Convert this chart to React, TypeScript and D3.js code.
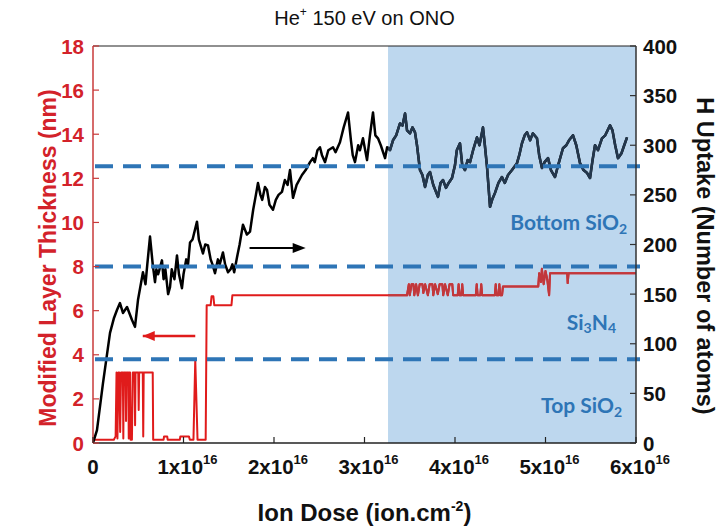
import React from 'react';
import * as d3 from 'd3';

// ---- data ----
const doseTicks = [0, 1, 2, 3, 4, 5, 6];
const thicknessTicks = [0, 2, 4, 6, 8, 10, 12, 14, 16, 18];
const uptakeTicks = [0, 50, 100, 150, 200, 250, 300, 350, 400];
const layerBoundariesNm = [3.8, 8.0, 12.55];
const shadedStartDose = 3.26;

// H uptake (right axis, atoms) vs ion dose (x1e16 ion/cm2)
const uptakeDose = [0, 0.044, 0.11, 0.188, 0.232, 0.265, 0.298, 0.331, 0.376, 0.431, 0.464, 0.497, 0.552, 0.58, 0.60, 0.63, 0.66, 0.685, 0.70, 0.72, 0.762, 0.78, 0.80, 0.83, 0.851, 0.87, 0.90, 0.928, 0.95, 0.983, 1.0, 1.03, 1.05, 1.072, 1.10, 1.149, 1.17, 1.215, 1.24, 1.271, 1.30, 1.32, 1.348, 1.38, 1.40, 1.436, 1.46, 1.492, 1.52, 1.54, 1.56, 1.591, 1.62, 1.657, 1.70, 1.735, 1.77, 1.80, 1.823, 1.85, 1.87, 1.9, 1.923, 1.95, 1.989, 2.02, 2.05, 2.088, 2.12, 2.15, 2.177, 2.21, 2.25, 2.309, 2.35, 2.398, 2.43, 2.45, 2.48, 2.508, 2.53, 2.564, 2.60, 2.652, 2.68, 2.729, 2.77, 2.818, 2.85, 2.87, 2.895, 2.93, 2.95, 2.983, 3.028, 3.06, 3.094, 3.12, 3.149, 3.18, 3.227, 3.25, 3.282, 3.315, 3.35, 3.392, 3.42, 3.448, 3.47, 3.503, 3.53, 3.558, 3.58, 3.613, 3.64, 3.669, 3.70, 3.724, 3.76, 3.812, 3.84, 3.867, 3.90, 3.93, 3.967, 4.00, 4.02, 4.055, 4.08, 4.11, 4.14, 4.166, 4.20, 4.243, 4.27, 4.309, 4.33, 4.354, 4.387, 4.41, 4.442, 4.48, 4.519, 4.55, 4.586, 4.63, 4.685, 4.71, 4.74, 4.77, 4.796, 4.83, 4.86, 4.906, 4.93, 4.961, 4.99, 5.028, 5.06, 5.105, 5.14, 5.193, 5.23, 5.26, 5.304, 5.34, 5.381, 5.42, 5.46, 5.492, 5.52, 5.547, 5.58, 5.624, 5.66, 5.713, 5.74, 5.77, 5.801, 5.84, 5.87, 5.901];
const uptakeAtoms = [0, 13, 60, 111, 126, 134, 141, 131, 137, 124, 117, 144, 172, 160, 180, 208, 180, 162, 175, 170, 184, 165, 175, 150, 157, 175, 165, 189, 170, 156, 170, 185, 180, 202, 205, 223, 205, 191, 200, 199, 185, 180, 171, 185, 180, 192, 180, 172, 175, 180, 172, 187, 200, 220, 210, 213, 235, 250, 262, 250, 245, 258, 255, 240, 235, 245, 250, 253, 265, 260, 275, 247, 260, 270, 275, 283, 287, 283, 295, 298, 290, 283, 295, 298, 293, 303, 318, 333, 305, 290, 283, 300, 295, 307, 285, 310, 333, 310, 307, 300, 287, 298, 295, 305, 310, 322, 320, 332, 315, 312, 318, 313, 300, 275, 270, 258, 270, 273, 260, 248, 262, 265, 257, 262, 267, 280, 295, 302, 280, 275, 285, 283, 295, 308, 300, 318, 300, 278, 238, 245, 252, 262, 268, 262, 270, 275, 282, 290, 302, 310, 313, 305, 312, 307, 290, 277, 283, 287, 275, 268, 280, 297, 300, 305, 310, 300, 282, 275, 272, 267, 285, 300, 295, 307, 310, 320, 315, 300, 287, 292, 300, 308];

// Modified layer thickness (left axis, nm) vs ion dose (x1e16 ion/cm2)
const thickDose = [0, 0.23, 0.25, 0.26, 0.27, 0.28, 0.29, 0.30, 0.31, 0.33, 0.335, 0.34, 0.36, 0.365, 0.37, 0.39, 0.395, 0.40, 0.41, 0.415, 0.43, 0.44, 0.46, 0.465, 0.47, 0.50, 0.505, 0.51, 0.55, 0.555, 0.56, 0.66, 0.665, 0.78, 0.785, 0.82, 0.825, 0.96, 0.965, 1.06, 1.07, 1.11, 1.13, 1.155, 1.245, 1.256, 1.30, 1.31, 1.33, 1.34, 1.53, 1.54, 3.47, 3.49, 3.50, 3.52, 3.54, 3.55, 3.57, 3.59, 3.61, 3.64, 3.65, 3.67, 3.70, 3.72, 3.75, 3.76, 3.78, 3.81, 3.83, 3.86, 3.87, 3.89, 3.92, 3.94, 3.97, 3.98, 4.03, 4.04, 4.05, 4.07, 4.08, 4.09, 4.23, 4.24, 4.25, 4.28, 4.29, 4.30, 4.44, 4.45, 4.46, 4.48, 4.49, 4.50, 4.52, 4.53, 4.92, 4.93, 4.95, 4.96, 4.98, 5.0, 5.02, 5.04, 5.05, 5.24, 5.245, 5.255, 6.0];
const thickNm = [0.15, 0.15, 0.3, 3.2, 0.2, 3.2, 3.2, 0.5, 3.2, 3.2, 0.2, 3.2, 3.2, 1.0, 3.2, 3.2, 0.2, 3.2, 3.2, 0.15, 0.15, 3.2, 3.2, 0.8, 3.2, 3.2, 1.5, 3.2, 3.2, 0.3, 3.2, 3.2, 0.15, 0.15, 0.3, 0.3, 0.15, 0.15, 0.3, 0.3, 0.15, 0.15, 3.76, 0.15, 0.15, 6.25, 6.25, 6.65, 6.65, 6.25, 6.25, 6.7, 6.7, 7.2, 6.7, 7.2, 7.2, 6.7, 7.2, 6.7, 7.2, 7.2, 6.8, 7.2, 6.7, 7.2, 7.2, 6.7, 7.2, 6.75, 7.2, 7.2, 6.7, 7.2, 6.7, 7.2, 7.2, 6.7, 6.7, 7.2, 6.7, 6.7, 7.2, 6.7, 6.7, 7.2, 6.7, 6.7, 7.2, 6.7, 6.7, 7.2, 6.7, 6.7, 7.2, 6.7, 6.7, 7.1, 7.1, 7.7, 7.3, 7.9, 7.2, 7.8, 7.4, 6.7, 7.7, 7.7, 7.25, 7.7, 7.7];

const RED = '#e01b1b';
const RED_TXT = '#d3222a';
const BLUE = '#2e75b6';
const SHADE = '#bdd7ee';

export default function App() {
  const left = 93, right = 636, top = 46, bottom = 443;
  const x = d3.scaleLinear().domain([0, 6]).range([left, right]);
  const yL = d3.scaleLinear().domain([0, 18]).range([bottom, top]);
  const yR = d3.scaleLinear().domain([0, 400]).range([bottom, top]);

  const uptakePts: [number, number][] = uptakeDose.map((d, i) => [d, uptakeAtoms[i]]);
  const thickPts: [number, number][] = thickDose.map((d, i) => [d, thickNm[i]]);
  const lineR = d3.line<[number, number]>().x(d => x(d[0])).y(d => yR(d[1]));
  const lineL = d3.line<[number, number]>().x(d => x(d[0])).y(d => yL(d[1]));
  const uptakePath = lineR(uptakePts) || '';
  const thickPath = lineL(thickPts) || '';
  const sx = x(shadedStartDose);

  const font = "'Liberation Sans', Arial, sans-serif";
  const calib = "Lato, 'Open Sans', sans-serif";
  const tickLen = 6;
  const tickFs = 20.5;

  return (
    <svg width={718} height={527} style={{ position: 'absolute', left: 0, top: 0, background: '#fff' }}>
      <defs>
        <clipPath id="shadeClip">
          <rect x={sx} y={top} width={right - sx} height={bottom - top} />
        </clipPath>
        <clipPath id="plotClip">
          <rect x={left} y={top - 2} width={right - left} height={bottom - top + 2} />
        </clipPath>
      </defs>
      {/* title */}
      <text x={(left + right) / 2} y={25} textAnchor="middle" fontFamily={font} fontSize={20} fill="#111">
        He<tspan fontSize={12} dy={-9}>+</tspan><tspan dy={9}> 150 eV on ONO</tspan>
      </text>

      {/* shaded region */}
      <rect x={sx} y={top} width={right - sx} height={bottom - top} fill={SHADE} />

      {/* lines */}
      <g clipPath="url(#plotClip)">
        <path d={thickPath} fill="none" stroke={RED} strokeWidth={2} strokeLinejoin="round" />
        <path d={uptakePath} fill="none" stroke="#000" strokeWidth={2.5} strokeLinejoin="round" />
      </g>
      <g clipPath="url(#shadeClip)">
        <path d={thickPath} fill="none" stroke="#c0383c" strokeWidth={2} strokeLinejoin="round" />
        <path d={uptakePath} fill="none" stroke="#23374d" strokeWidth={2.5} strokeLinejoin="round" />
      </g>

      {/* layer boundaries */}
      {layerBoundariesNm.map((b, i) => (
        <line key={i} x1={left + 2} x2={right + 4} y1={yL(b)} y2={yL(b)} stroke={BLUE} strokeWidth={4} strokeDasharray="18 10" />
      ))}

      {/* arrows */}
      <line x1={x(0.55)} x2={x(1.13)} y1={336} y2={336} stroke={RED} strokeWidth={2.5} />
      <path d={`M${x(0.55)},336 l12,-5 l0,10 z`} fill={RED} />
      <line x1={x(1.73)} x2={x(2.3)} y1={248} y2={248} stroke="#000" strokeWidth={2} />
      <path d={`M${x(2.35)},248 l-13,-5 l0,10 z`} fill="#000" />

      {/* frame */}
      <line x1={left} x2={right} y1={top} y2={top} stroke="#222" strokeWidth={1.2} />
      <line x1={left} x2={right} y1={bottom} y2={bottom} stroke="#222" strokeWidth={1.5} />
      <line x1={right} x2={right} y1={top} y2={bottom} stroke="#333" strokeWidth={1.5} />
      <line x1={left} x2={left} y1={top} y2={bottom} stroke="#c83a3a" strokeWidth={1.5} />

      {/* left ticks */}
      {thicknessTicks.map(t => (
        <g key={t}>
          <line x1={left} x2={left + tickLen} y1={yL(t)} y2={yL(t)} stroke="#c83a3a" strokeWidth={1.2} />
          <text x={left - 9} y={yL(t) + 7.5} textAnchor="end" fontFamily={font} fontWeight="bold" fontSize={tickFs} fill={RED_TXT}>{t}</text>
        </g>
      ))}
      {/* right ticks */}
      {uptakeTicks.map(t => (
        <g key={t}>
          <line x1={right - tickLen} x2={right} y1={yR(t)} y2={yR(t)} stroke="#333" strokeWidth={1.2} />
          <text x={right + 7} y={yR(t) + 7.5} textAnchor="start" fontFamily={font} fontWeight="bold" fontSize={tickFs} fill="#111">{t}</text>
        </g>
      ))}
      {/* x ticks */}
      {doseTicks.map(t => (
        <g key={t}>
          <line x1={x(t)} x2={x(t)} y1={bottom} y2={bottom - tickLen} stroke="#222" strokeWidth={1.2} />
          {t === 0 ? (
            <text x={x(t)} y={bottom + 31} textAnchor="middle" fontFamily={font} fontWeight="bold" fontSize={tickFs} fill="#111">0</text>
          ) : (
            <text x={x(t) + 4} y={bottom + 31} textAnchor="middle" fontFamily={font} fontWeight="bold" fontSize={tickFs} fill="#111">
              {t}x10<tspan fontSize={13} dy={-10}>16</tspan>
            </text>
          )}
        </g>
      ))}

      {/* axis titles */}
      <text transform={`translate(56,258) rotate(-90)`} textAnchor="middle" fontFamily={font} fontWeight="bold" fontSize={23} fill={RED_TXT}>
        Modified Layer Thickness (nm)
      </text>
      <text transform={`translate(697,256) rotate(90)`} textAnchor="middle" fontFamily={font} fontWeight="bold" fontSize={23.5} fill="#111">
        H Uptake (Number of atoms)
      </text>
      <text x={(left + right) / 2} y={521} textAnchor="middle" fontFamily={font} fontWeight="bold" fontSize={24} fill="#111">
        Ion Dose (ion.cm<tspan fontSize={14} dy={-10}>-2</tspan><tspan dy={10}>)</tspan>
      </text>

      {/* layer labels */}
      <text x={627} y={230} textAnchor="end" fontFamily={calib} fontWeight="bold" fontSize={21} fill={BLUE}>
        Bottom SiO<tspan fontSize={14} dy={4}>2</tspan>
      </text>
      <text x={616} y={330} textAnchor="end" fontFamily={calib} fontWeight="bold" fontSize={21} fill={BLUE}>
        Si<tspan fontSize={14} dy={3}>3</tspan><tspan dy={-3}>N</tspan><tspan fontSize={14} dy={3}>4</tspan>
      </text>
      <text x={622} y={413} textAnchor="end" fontFamily={calib} fontWeight="bold" fontSize={21} fill={BLUE}>
        Top SiO<tspan fontSize={14} dy={4}>2</tspan>
      </text>
    </svg>
  );
}
